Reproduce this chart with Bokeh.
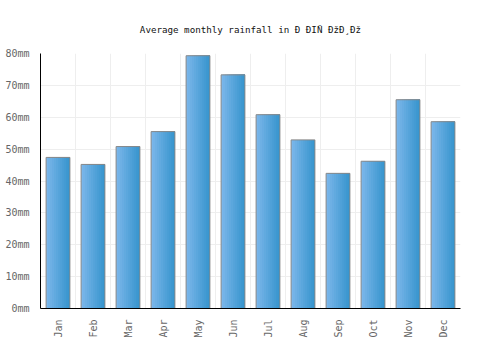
import numpy as np
from bokeh.plotting import figure
from bokeh.models import Range1d, FixedTicker, PrintfTickFormatter, ColumnDataSource, Title
from bokeh.transform import dodge
from bokeh.embed import file_html
from bokeh.resources import INLINE
from math import pi

months = ["Jan", "Feb", "Mar", "Apr", "May", "Jun", "Jul", "Aug", "Sep", "Oct", "Nov", "Dec"]
rainfall = [47.4, 45.2, 50.8, 55.5, 79.3, 73.3, 60.8, 52.9, 42.4, 46.2, 65.5, 58.6]
y_ticks = [0, 10, 20, 30, 40, 50, 60, 70, 80]
title_text = "Average monthly rainfall in Ð ÐIÑ ÐžÐ¸Ðž"

xs = [i + 0.5 for i in range(len(months))]
src = ColumnDataSource(dict(x=xs, y=rainfall))

p = figure(width=500, height=350, output_backend="svg", toolbar_location=None,
           x_range=Range1d(0, len(months)), y_range=Range1d(0, 80),
           min_border_left=40, min_border_right=40, min_border_top=0, min_border_bottom=42)
p.outline_line_color = None

main_title = Title(text=title_text, align="center", text_font="DejaVu Sans Mono",
                   text_font_size="9.2px", text_font_style="normal", text_color="#111111",
                   standoff=37, offset=-10)
spacer = Title(text=" ", text_font_size="1px", standoff=0)
p.title = None
p.add_layout(main_title, "above")
p.add_layout(spacer, "above")

bar_w = 0.68
n = 12
c0 = np.array([122, 182, 234])
c1 = np.array([56, 150, 206])
for k in range(n):
    t = k / (n - 1)
    c = (c0 * (1 - t) + c1 * t).astype(int)
    col = "#%02x%02x%02x" % tuple(c)
    start = k * bar_w / n
    wk = bar_w - start
    off = -bar_w / 2 + start + wk / 2
    p.vbar(x=dodge("x", off, range=p.x_range), top="y", bottom=0, width=wk,
           source=src, fill_color=col, line_color=None)
p.vbar(x="x", top="y", bottom=0, width=bar_w, source=src, fill_color=None,
       line_color="#888888", line_width=1)

p.xaxis.ticker = FixedTicker(ticks=xs)
p.xaxis.major_label_overrides = {x: m for x, m in zip(xs, months)}
p.xaxis.major_label_orientation = pi / 2
p.yaxis.ticker = FixedTicker(ticks=y_ticks)
p.yaxis.formatter = PrintfTickFormatter(format="%dmm")

for ax in (p.xaxis, p.yaxis):
    ax.axis_line_color = "black"
    ax.axis_line_width = 1
    ax.major_tick_line_color = None
    ax.minor_tick_line_color = None
    ax.major_label_text_font = "DejaVu Sans Mono"
    ax.major_label_text_font_size = "10px"
    ax.major_label_text_color = "#666666"

p.xgrid.ticker = FixedTicker(ticks=list(range(len(months) + 1)))
p.xgrid.grid_line_color = "#eeeeee"
p.ygrid.grid_line_color = "#eeeeee"

open("out.html", "w").write(file_html(p, INLINE))
